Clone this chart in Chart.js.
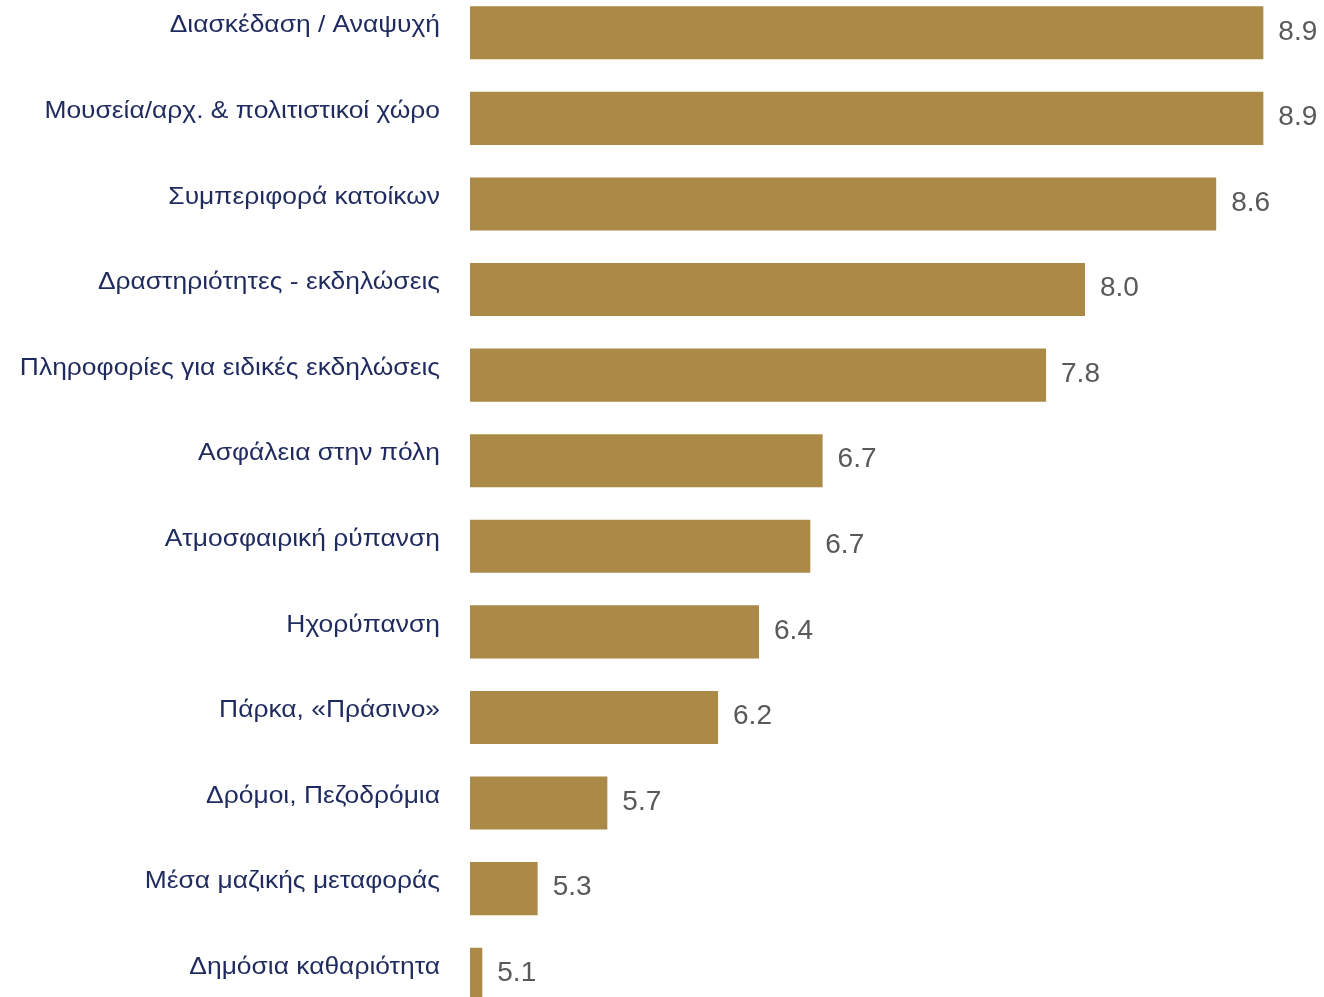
<!DOCTYPE html>
<html>
<head>
<meta charset="utf-8">
<script src="https://cdn.jsdelivr.net/npm/chart.js@4.4.1/dist/chart.umd.min.js"></script>
<style>
  html, body { margin: 0; padding: 0; background: #fff; overflow: hidden; }
  .wrap { position: absolute; left: 0; top: -10px; width: 1324px; height: 1027px; }
</style>
</head>
<body>
<div class="wrap"><canvas id="satChart"></canvas></div>
<script>
// categories and scores
const categories = [
  'Διασκέδαση / Αναψυχή',
  'Μουσεία/αρχ. & πολιτιστικοί χώρο',
  'Συμπεριφορά κατοίκων',
  'Δραστηριότητες - εκδηλώσεις',
  'Πληροφορίες για ειδικές εκδηλώσεις',
  'Ασφάλεια στην πόλη',
  'Ατμοσφαιρική ρύπανση',
  'Ηχορύπανση',
  'Πάρκα, «Πράσινο»',
  'Δρόμοι, Πεζοδρόμια',
  'Μέσα μαζικής μεταφοράς',
  'Δημόσια καθαριότητα'
];
const scores = [8.87, 8.87, 8.64, 8.00, 7.81, 6.72, 6.66, 6.41, 6.21, 5.67, 5.33, 5.06];
const axisMin = 5;
const axisMax = 9;

const FONT = '"Liberation Sans", Arial, sans-serif';

// category names left of the bars, sitting a little above the bar centre
const categoryLabels = {
  id: 'categoryLabels',
  afterDraw(chart) {
    const ctx = chart.ctx;
    const y = chart.scales.y;
    const right = chart.chartArea.left - 30;
    ctx.save();
    ctx.font = '24px ' + FONT;
    ctx.fillStyle = '#1F2A5E';
    ctx.textAlign = 'right';
    ctx.textBaseline = 'middle';
    categories.forEach((c, i) => {
      ctx.save();
      ctx.translate(right, y.getPixelForValue(i) - 7);
      ctx.scale(1.1, 1);
      ctx.fillText(c, 0, 0);
      ctx.restore();
    });
    ctx.restore();
  }
};

// draw the number to the right of each bar
const valueLabels = {
  id: 'valueLabels',
  afterDatasetsDraw(chart) {
    const ctx = chart.ctx;
    const meta = chart.getDatasetMeta(0);
    ctx.save();
    ctx.font = '28px ' + FONT;
    ctx.fillStyle = '#595959';
    ctx.textAlign = 'left';
    ctx.textBaseline = 'middle';
    meta.data.forEach((bar, i) => {
      ctx.fillText(scores[i].toFixed(1), bar.x + 15, bar.y - 1);
    });
    ctx.restore();
  }
};

const ctx = document.getElementById('satChart').getContext('2d');
new Chart(ctx, {
  type: 'bar',
  data: {
    labels: categories,
    datasets: [{
      data: scores,
      backgroundColor: '#AB8A48',
      borderWidth: 0,
      categoryPercentage: 1,
      barPercentage: 0.62
    }]
  },
  options: {
    indexAxis: 'y',
    responsive: true,
    maintainAspectRatio: false,
    animation: false,
    layout: { padding: { top: 0, bottom: 0, left: 0, right: 34 } },
    plugins: {
      legend: { display: false },
      tooltip: { enabled: false }
    },
    scales: {
      x: {
        display: false,
        min: axisMin,
        max: axisMax
      },
      y: {
        grid: { display: false, drawTicks: false },
        border: { display: false },
        ticks: { display: false },
        afterFit: (scale) => { scale.width = 470; }
      }
    }
  },
  plugins: [valueLabels, categoryLabels]
});
</script>
</body>
</html>
